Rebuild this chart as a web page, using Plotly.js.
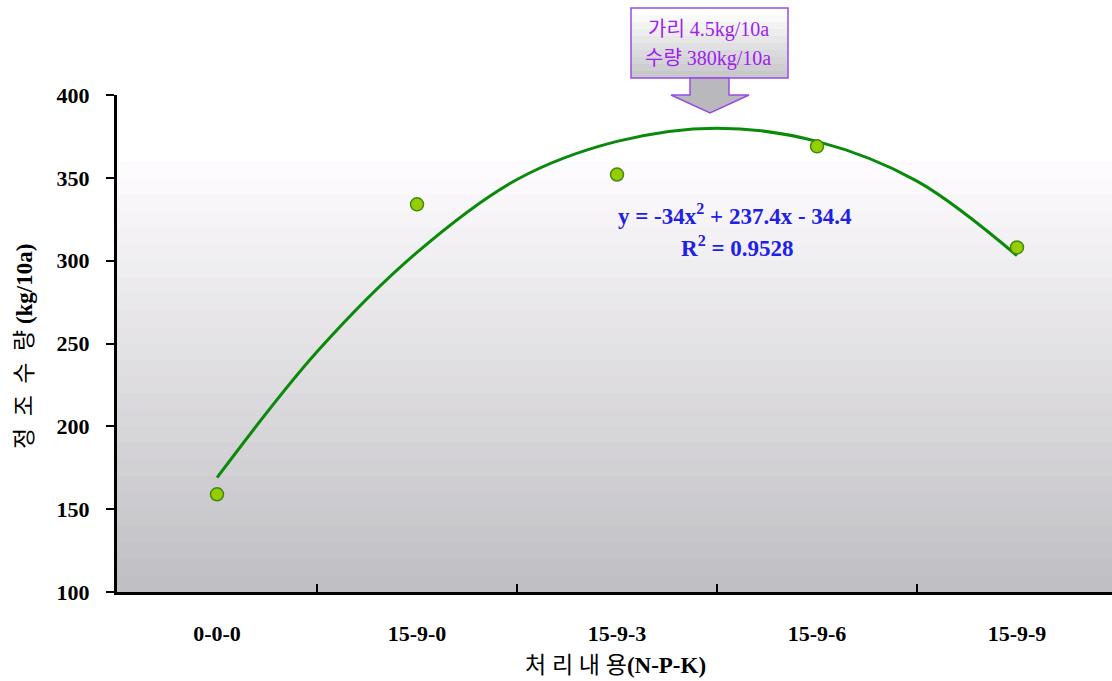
<!DOCTYPE html>
<html>
<head>
<meta charset="utf-8">
<script src="https://cdn.plot.ly/plotly-3.0.1.min.js"></script>
<style>html,body{margin:0;padding:0;background:#fff;}#chart{width:1112px;height:681px;}</style>
</head>
<body>
<div id="chart"></div>
<script>
// ---- data ----
const categories = ["0-0-0", "15-9-0", "15-9-3", "15-9-6", "15-9-9"];
const yieldValues = [159, 334, 352, 369, 308];
// trendline (category index positions)
const trendX = [0, 0.5, 1, 1.5, 2, 2.5, 3, 3.5, 4];
const trendY = [169, 245, 305, 349, 372, 380, 372, 348, 303];
const yTicks = [100, 150, 200, 250, 300, 350, 400];
const equationText = "y = -34x<sup>2</sup> + 237.4x - 34.4";
const r2Text = "R<sup>2</sup> = 0.9528";
const calloutLines = ["가리 4.5kg/10a", "수량 380kg/10a"];

// ---- styling helpers ----
function mix(c1, c2, t) {
  const r = Math.round(c1[0] + (c2[0] - c1[0]) * t);
  const g = Math.round(c1[1] + (c2[1] - c1[1]) * t);
  const b = Math.round(c1[2] + (c2[2] - c1[2]) * t);
  return `rgb(${r},${g},${b})`;
}
const shapes = [];
// banded gradient background (bands overlap slightly to avoid seams)
const bottomC = [192, 191, 195], topC = [253, 251, 253];
const nb = 26;
for (let i = 0; i < nb; i++) {
  const y0 = 100 + i * 10, y1 = y0 + 12;
  shapes.push({type: 'rect', xref: 'paper', yref: 'y', x0: 0, x1: 1, y0: y0, y1: y1,
    fillcolor: mix(bottomC, topC, i / (nb - 1)), line: {width: 0}, layer: 'below'});
}
shapes.push({type: 'rect', xref: 'paper', yref: 'y', x0: 0, x1: 1, y0: 360, y1: 400,
  fillcolor: '#ffffff', line: {width: 0}, layer: 'below'});

// callout box (paper coords)
const L = 117, T = 95, W = 995, H = 497;
const px = x => (x - L) / W;
const py = y => (T + H - y) / H;
const bx0 = 631, bx1 = 788, by0 = 8, by1 = 78;
const nBox = 10;
for (let i = 0; i < nBox; i++) {
  const ya = by0 + (by1 - by0) * i / nBox, yb = by0 + (by1 - by0) * (i + 1) / nBox + 1;
  shapes.push({type: 'rect', xref: 'paper', yref: 'paper', x0: px(bx0), x1: px(bx1), y0: py(Math.min(yb, by1)), y1: py(ya),
    fillcolor: mix([255, 255, 255], [200, 200, 202], i / (nBox - 1)), line: {width: 0}});
}
shapes.push({type: 'rect', xref: 'paper', yref: 'paper', x0: px(bx0), x1: px(bx1), y0: py(by1), y1: py(by0),
  fillcolor: 'rgba(0,0,0,0)', line: {color: '#9a4ae6', width: 1.5}});
// arrow
const arrowPath = `M ${px(690)},${py(78)} L ${px(729)},${py(78)} L ${px(729)},${py(95)} L ${px(749)},${py(95)} L ${px(710)},${py(113)} L ${px(671)},${py(95)} L ${px(690)},${py(95)} Z`;
shapes.push({type: 'path', xref: 'paper', yref: 'paper', path: arrowPath,
  fillcolor: '#b9b9bd', line: {color: '#9a4ae6', width: 1.5}});

const traces = [
  {x: trendX, y: trendY, mode: 'lines', line: {shape: 'spline', color: '#0a8a0a', width: 3},
   hoverinfo: 'skip', showlegend: false, xaxis: 'x', yaxis: 'y'},
  {x: categories.map((c, i) => i), y: yieldValues, mode: 'markers',
   marker: {size: 13, color: '#99cc00', line: {color: '#3c8c14', width: 1.5}},
   showlegend: false, xaxis: 'x2', yaxis: 'y'}
];

const serif = 'Liberation Serif, Times New Roman, Noto Sans CJK KR, serif';
const layout = {
  width: 1112, height: 681,
  margin: {l: L, r: 0, t: T, b: 681 - T - H},
  paper_bgcolor: '#ffffff', plot_bgcolor: 'rgba(0,0,0,0)',
  showlegend: false,
  xaxis: {range: [-0.5, 4.475], showgrid: false, zeroline: false, showline: true,
    linecolor: '#000', linewidth: 3, ticks: 'inside', ticklen: 8, tickwidth: 2, tickcolor: '#000',
    tickvals: [0.5, 1.5, 2.5, 3.5], showticklabels: false, fixedrange: true},
  xaxis2: {overlaying: 'x', matches: 'x', side: 'bottom', range: [-0.5, 4.475],
    showgrid: false, zeroline: false, showline: false, ticks: '',
    tickvals: [0, 1, 2, 3, 4], ticktext: categories, ticklabelstandoff: 26,
    tickfont: {family: serif, size: 22, color: '#000', weight: 'bold'}},
  yaxis: {range: [100, 400], tickvals: yTicks, ticktext: yTicks.map(String),
    showgrid: false, zeroline: false, showline: true, linecolor: '#000', linewidth: 3,
    ticks: 'outside', ticklen: 8, tickwidth: 2, tickcolor: '#000', ticklabelstandoff: 12,
    tickfont: {family: serif, size: 22, color: '#000', weight: 'bold'}},
  shapes: shapes,
  annotations: [
    {xref: 'paper', yref: 'paper', x: px(24), y: py(347), textangle: -90, showarrow: false,
     text: '정  조  수  량 <b>(kg/10a)</b>', font: {family: serif, size: 23, color: '#000'},
     xanchor: 'center', yanchor: 'middle'},
    {xref: 'paper', yref: 'paper', x: px(615), y: py(665), showarrow: false,
     text: '처 리 내 용<b>(N-P-K)</b>', font: {family: serif, size: 23, color: '#000'},
     xanchor: 'center', yanchor: 'middle'},
    {xref: 'paper', yref: 'paper', x: px(735), y: py(214), showarrow: false,
     text: equationText, font: {family: serif, size: 23, color: '#2020e8', weight: 'bold'},
     xanchor: 'center', yanchor: 'middle'},
    {xref: 'paper', yref: 'paper', x: px(737), y: py(246), showarrow: false,
     text: r2Text, font: {family: serif, size: 23, color: '#2020e8', weight: 'bold'},
     xanchor: 'center', yanchor: 'middle'},
    {xref: 'paper', yref: 'paper', x: px(708), y: py(30), showarrow: false,
     text: calloutLines[0], font: {family: serif, size: 20, color: '#a020f0'},
     xanchor: 'center', yanchor: 'middle'},
    {xref: 'paper', yref: 'paper', x: px(708), y: py(59), showarrow: false,
     text: calloutLines[1], font: {family: serif, size: 20, color: '#a020f0'},
     xanchor: 'center', yanchor: 'middle'}
  ]
};

Plotly.newPlot('chart', traces, layout, {displayModeBar: false, staticPlot: true});
</script>
</body>
</html>
